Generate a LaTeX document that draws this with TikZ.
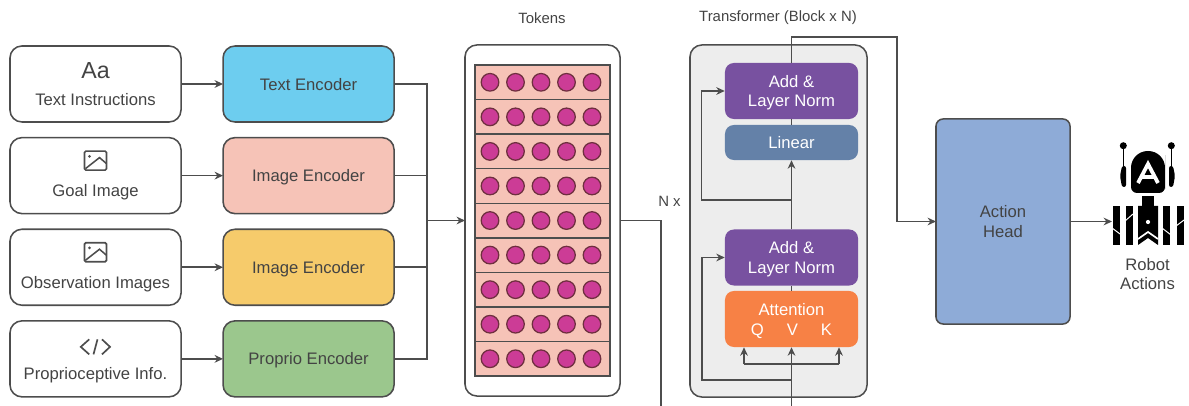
\documentclass[tikz,border=0pt]{standalone}
\usepackage{fontspec}
\setmainfont{Liberation Sans}
\usetikzlibrary{arrows.meta, positioning}

\definecolor{inkgray}{HTML}{4D4D4D}
\definecolor{textgray}{HTML}{434343}
\definecolor{textblue}{HTML}{6DCDEF}
\definecolor{imgpink}{HTML}{F6C3B7}
\definecolor{imgyellow}{HTML}{F6CB6B}
\definecolor{propgreen}{HTML}{9BC78D}
\definecolor{normpurple}{HTML}{7851A0}
\definecolor{linearblue}{HTML}{6481A8}
\definecolor{attnorange}{HTML}{F78145}
\definecolor{headblue}{HTML}{8EABD7}
\definecolor{tokmagenta}{HTML}{CC3C96}
\definecolor{tokrim}{HTML}{6F2F3F}
\definecolor{blockgray}{HTML}{EDEDED}

\newcommand{\toppad}{\rule{0pt}{11.2pt}}

\begin{document}
\begin{tikzpicture}[
        x=0.025cm, y=-0.025cm,
        every node/.style={font=\fontsize{11.85}{14}\selectfont, text=textgray},
        srcbox/.style={rectangle, draw=inkgray, line width=1.1pt, rounded corners=0.3cm, minimum width=4.275cm, minimum height=1.9cm, inner sep=0pt, outer sep=0pt},
        encbox/.style={srcbox, text depth=0pt},
        srclabel/.style={text depth=0pt},
        layerbox/.style={rectangle, rounded corners=0.22cm, minimum width=3.325cm, align=center, inner sep=0pt, text=white},
        title/.style={font=\fontsize{10.6}{13}\selectfont},
        tokrow/.style={rectangle, draw=inkgray, line width=1pt, fill=imgpink, minimum width=3.375cm, minimum height=0.864cm, inner sep=0pt},
        tokdot/.style={circle, draw=tokrim, line width=0.9pt, fill=tokmagenta, minimum size=0.44cm, inner sep=0pt},
        wire/.style={draw=inkgray, line width=1.1pt},
        arrow/.style={wire, -{Stealth[length=6pt, width=5.5pt]}},
        imageicon/.pic={
            \draw[inkgray, line width=1.2pt, rounded corners=1pt] (-11,-9.5) rectangle (11,9.5);
            \fill[inkgray] (-6,-4.3) circle (1.1pt);
            \draw[inkgray, line width=1.1pt] (-10,8) -- (4,-3) -- (11,3);
        },
        codeicon/.pic={
            \draw[inkgray, line width=1.2pt] (-6.3,-7.5) -- (-14.7,0) -- (-6.3,7.5);
            \draw[inkgray, line width=1.2pt] (2,-7.5) -- (-2,7.5);
            \draw[inkgray, line width=1.2pt] (6.5,-7.5) -- (14.5,0) -- (6.5,7.5);
        }
    ]
        \useasboundingbox (0,0) rectangle (1189,406);

        % Inputs
        \node[srcbox] (txtsrc) at (95.5,84) {};
        \node[srcbox, below=0.39cm of txtsrc] (goalsrc) {};
        \node[srcbox, below=0.39cm of goalsrc] (obssrc) {};
        \node[srcbox, below=0.39cm of obssrc] (propsrc) {};

        \node[font=\fontsize{16.5}{18}\selectfont] (aa) at ([yshift=0.33cm]txtsrc.center) {Aa};
        \node[srclabel] (txtlabel) at ([yshift=-0.375cm]txtsrc.center) {Text Instructions};
        \pic at ([yshift=0.375cm]goalsrc.center) {imageicon};
        \node[srclabel] (goallabel) at ([yshift=-0.375cm]goalsrc.center) {Goal Image};
        \pic at ([yshift=0.375cm]obssrc.center) {imageicon};
        \node[srclabel] (obslabel) at ([yshift=-0.375cm]obssrc.center) {Observation Images};
        \pic at ([yshift=0.3cm]propsrc.center) {codeicon};
        \node[srclabel] (proplabel) at ([yshift=-0.375cm]propsrc.center) {Proprioceptive Info.};

        % Encoders
        \node[encbox, fill=textblue, right=1.05cm of txtsrc] (txtenc) {Text Encoder};
        \node[encbox, fill=imgpink, right=1.05cm of goalsrc] (goalenc) {Image Encoder};
        \node[encbox, fill=imgyellow, right=1.05cm of obssrc] (obsenc) {Image Encoder};
        \node[encbox, fill=propgreen, right=1.05cm of propsrc] (propenc) {Proprio Encoder};

        \foreach \n in {txt, goal, obs, prop} {
            \draw[arrow] (\n src) -- (\n enc);
        }

        % Tokens
        \node[title] (tokentitle) at (542,18) {Tokens};
        \node[srcbox, minimum width=3.875cm, minimum height=8.775cm] (tokens) at (542.5,220.5) {};
        \foreach \r in {0,...,8} {
            \node[tokrow] (row\r) at (542.5,{82.3+34.56*\r}) {};
            \foreach \c in {0,...,4} {
                \node[tokdot] (dot\r\c) at ({490+25.5*\c},{82.3+34.56*\r}) {};
            }
        }

        \coordinate (merge) at (427,220.5);
        \foreach \n in {txt, goal, obs, prop} {
            \draw[wire] (\n enc) -| (merge);
        }
        \draw[arrow] (merge) -- (tokens);

        % Transformer
        \node[title] (blocktitle) at (778,18) {Transformer (Block x N)};
        \node[srcbox, fill=blockgray, minimum width=4.425cm, minimum height=8.8cm] (block) at (778.5,221) {};
        \node[layerbox, fill=normpurple, minimum height=1.4cm] (addtop) at (791.5,91) {\toppad Add \&\\Layer Norm};
        \node[layerbox, fill=linearblue, minimum height=0.875cm] (linear) at (791.5,142.5) {Linear};
        \node[layerbox, fill=normpurple, minimum height=1.4cm] (addlow) at (791.5,257.5) {\toppad Add \&\\Layer Norm};
        \node[layerbox, fill=attnorange, minimum height=1.4cm] (attn) at (791.5,319) {\toppad Attention\\Q\hspace{16.3pt}V\hspace{16.3pt}K};

        \node[title] (nx) at (669.5,201) {N x};

        \coordinate (tokturn) at (661,406.5);
        \coordinate (blockin) at (791.5,406.5);
        \coordinate (upperskip) at (791.5,200);
        \coordinate (lowerskip) at (791.5,380);
        \coordinate (upperleft) at (701.5,200);
        \coordinate (lowerleft) at (702,380);
        \coordinate (qturn) at (744,364);
        \coordinate (kturn) at (839,364);
        \coordinate (topturn) at (791.5,37);
        \coordinate (outturn) at (897,37);

        \draw[wire] (tokens.east) -| (tokturn) -- (blockin);
        \draw[arrow] (blockin) -- (attn.south);
        \draw[wire] (attn.north) -- (addlow.south);
        \draw[arrow] (addlow.north) -- (linear.south);
        \draw[wire] (linear.north) -- (addtop.south);
        \draw[arrow] (lowerskip) -- (lowerleft) |- (addlow.west);
        \draw[arrow] (upperskip) -- (upperleft) |- (addtop.west);
        \draw[wire] (qturn) -- (kturn);
        \draw[arrow] (qturn) -- (qturn |- attn.south);
        \draw[arrow] (kturn) -- (kturn |- attn.south);

        % Action head
        \node[srcbox, fill=headblue, rounded corners=0.18cm, minimum width=3.35cm, minimum height=5.125cm, align=center] (action) at (1003,221.5) {Action\\Head};
        \draw[arrow] (addtop.north) -- (topturn) -- (outturn) |- (action.west);

        % Robot
        \coordinate (robot) at (1112,221.5);
        \draw[arrow] (action.east) -- (robot);
        \node (robotlabel) at (1147.5,274) [align=center] {Robot\\Actions};

        \fill[black] (1123.3,145.7) circle (2.5pt);
        \fill[black] (1171.3,145.7) circle (2.5pt);
        \draw[black, line width=0.9pt] (1123.3,146) -- (1123.3,168);
        \draw[black, line width=0.9pt] (1171.3,146) -- (1171.3,168);
        \fill[black, rounded corners=1.5pt] (1126,166) -- (1122,166) -- (1120,176) -- (1122,187) -- (1126,187) -- cycle;
        \fill[black, rounded corners=1.5pt] (1169,166) -- (1173,166) -- (1175,176) -- (1173,187) -- (1169,187) -- cycle;
        \fill[black, rounded corners=0.42cm] (1131,172) -- (1131,151) -- (1165,151) -- (1165,172) [rounded corners=0.15cm] -- (1165,193) -- (1131,193) -- cycle;
        \draw[white, line width=2.7pt] (1138,183) -- (1148,164) -- (1158,183);
        \draw[white, line width=2.2pt] (1141,177) -- (1155,177);
        \fill[black] (1142,196) rectangle (1154,206);
        \fill[black] (1138,206) -- (1158,206) -- (1158,245) -- (1148,238) -- (1138,245) -- cycle;
        \fill[white] (1148,222) circle (1.5pt);
        \draw[white, line width=1.2pt] (1138,239) -- (1148,232) -- (1158,239);
        \foreach \bx in {1113,1126,1163,1177} {
            \fill[black] (\bx,206) rectangle ++(6.5,39);
        }
        \draw[white, line width=0.7pt] (1125,221) -- (1133,214);
        \draw[white, line width=0.7pt] (1112,228) -- (1120,234);
        \draw[white, line width=0.7pt] (1162,228) -- (1171,235);
        \draw[white, line width=0.7pt] (1176,226) -- (1184,220);
    \end{tikzpicture}
\end{document}
